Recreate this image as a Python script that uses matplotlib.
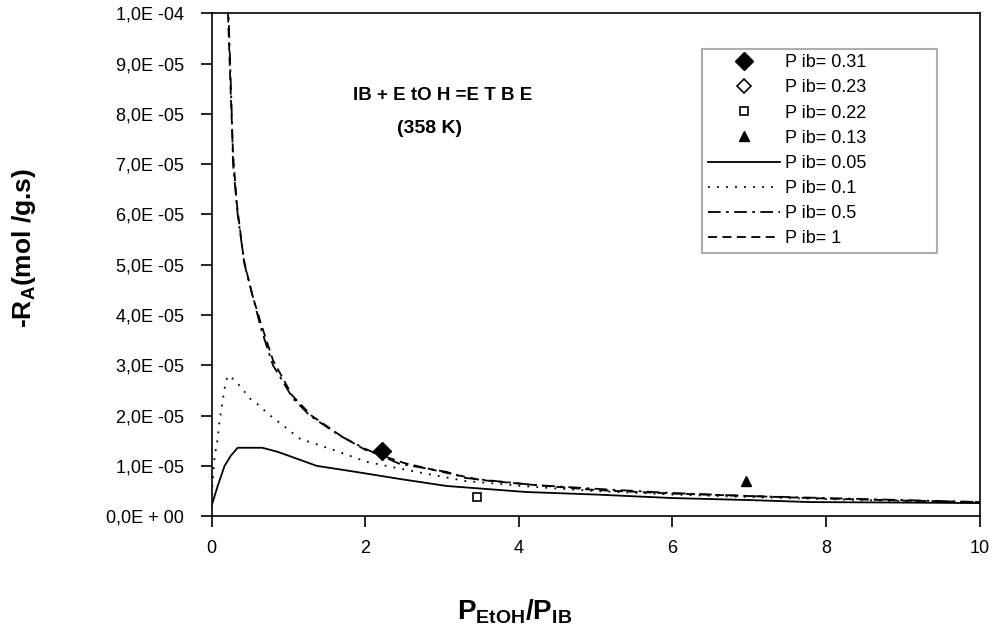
import matplotlib
matplotlib.use("Agg")
import matplotlib.pyplot as plt
from matplotlib.ticker import FuncFormatter, MultipleLocator

plt.rcParams["font.family"] = ["Liberation Sans", "DejaVu Sans"]
plt.rcParams["mathtext.fontset"] = "custom"
plt.rcParams["mathtext.rm"] = "Liberation Sans"
plt.rcParams["mathtext.bf"] = "Liberation Sans:bold"

# measured points (rate in units of 1e-5 mol/g.s)
pts_x = [2.22, 2.22, 3.46, 6.96]
pts_y = [1.29, 1.29, 0.38, 0.70]
pts_labels = ["P ib= 0.31", "P ib= 0.23", "P ib= 0.22", "P ib= 0.13"]

# model curves
x_005 = [0, 0.08, 0.17, 0.25, 0.34, 0.66, 0.86, 1.37, 1.88, 2.45, 3.06, 4.1,
         5.0, 6.0, 7.0, 7.8, 9.0, 10.0]
y_005 = [0.2, 0.6, 1.0, 1.2, 1.36, 1.36, 1.28, 1.0, 0.88, 0.74, 0.6, 0.48,
         0.43, 0.36, 0.32, 0.28, 0.27, 0.26]

x_01 = [0, 0.04, 0.08, 0.1, 0.13, 0.17, 0.2, 0.23, 0.34, 0.5, 0.62, 0.73,
        0.85, 1.15, 1.58, 2.02, 2.6, 3.3, 4.2, 5.0, 6.0, 7.0, 8.0, 9.0, 10.0]
y_01 = [0.4, 1.18, 1.54, 1.84, 2.14, 2.54, 2.74, 2.8, 2.64, 2.34, 2.2, 2.04,
        1.9, 1.54, 1.32, 1.08, 0.9, 0.7, 0.58, 0.5, 0.43, 0.38, 0.34, 0.3, 0.27]

x_05 = [0.21, 0.26, 0.28, 0.34, 0.43, 0.54, 0.65, 0.80, 1.06, 1.28, 1.67, 2.0,
        2.45, 3.06, 3.3, 4.2, 5.05, 6.0, 7.0, 8.0, 9.0, 10.0]
y_05 = [10.5, 8.16, 7.0, 6.0, 5.0, 4.35, 3.7, 3.0, 2.34, 2.0, 1.6, 1.34,
        1.04, 0.88, 0.76, 0.62, 0.54, 0.46, 0.40, 0.36, 0.32, 0.28]

x_1 = [0.20, 0.25, 0.28, 0.33, 0.42, 0.53, 0.65, 0.80, 1.05, 1.30, 1.70, 2.0,
       2.5, 3.0, 3.5, 4.2, 5.0, 6.0, 7.0, 8.0, 9.0, 10.0]
y_1 = [10.6, 8.4, 7.2, 6.2, 5.1, 4.4, 3.8, 3.1, 2.4, 2.0, 1.58, 1.32,
       1.06, 0.88, 0.72, 0.62, 0.52, 0.45, 0.40, 0.35, 0.31, 0.28]

scale = 1e-5

fig = plt.figure(figsize=(9.95, 6.31), dpi=100)
ax = fig.add_axes([0.2126, 0.182, 0.772, 0.797])

ax.plot(pts_x[0], pts_y[0] * scale, linestyle="none", marker="D", ms=9,
        color="black", label=pts_labels[0], zorder=5)
ax.plot(pts_x[1], pts_y[1] * scale, linestyle="none", marker="D", ms=7,
        mfc="white", mec="black", mew=1.2, label=pts_labels[1], zorder=4)
ax.plot(pts_x[2], pts_y[2] * scale, linestyle="none", marker="s", ms=6,
        mfc="white", mec="black", mew=1.2, label=pts_labels[2], zorder=5)
ax.plot(pts_x[3], pts_y[3] * scale, linestyle="none", marker="^", ms=7,
        color="black", label=pts_labels[3], zorder=5)

ax.plot(x_005, [v * scale for v in y_005], color="black", lw=1.3,
        label="P ib= 0.05")
ax.plot(x_01, [v * scale for v in y_01], color="black", lw=1.3,
        linestyle=(0, (1, 4)), label="P ib= 0.1")
ax.plot(x_05, [v * scale for v in y_05], color="black", lw=1.3,
        linestyle=(0, (7, 3, 1.5, 3)), label="P ib= 0.5")
ax.plot(x_1, [v * scale for v in y_1], color="black", lw=1.3,
        linestyle=(0, (5, 3)), label="P ib= 1")

ax.set_xlim(0, 10)
ax.set_ylim(0, 1e-4)
ax.xaxis.set_major_locator(MultipleLocator(2))
ax.yaxis.set_major_locator(MultipleLocator(1e-5))


def fmt_y(v, pos):
    m = round(v / 1e-5)
    if m == 0:
        return "0,0E + 00"
    if m == 10:
        return "1,0E -04"
    return f"{m},0E -05"


ax.yaxis.set_major_formatter(FuncFormatter(fmt_y))
ax.tick_params(axis="both", direction="out", length=8, width=1.2,
               labelsize=13, color="black")
ax.tick_params(axis="y", pad=12)
ax.tick_params(axis="x", pad=9)
for s in ax.spines.values():
    s.set_linewidth(1.2)

ax.text(0.301, 0.836, "IB + E tO H =E T B E", transform=ax.transAxes,
        fontsize=13.5, fontweight="bold", ha="center", va="center")
ax.text(0.284, 0.77, "(358 K)", transform=ax.transAxes,
        fontsize=14, fontweight="bold", ha="center", va="center")

ax.set_ylabel(r"-R$_{\mathbf{A}}$(mol /g.s)", fontsize=19, fontweight="bold")
ax.yaxis.set_label_coords(-0.226, 0.533)
ax.set_xlabel(r"P$_{\mathbf{EtOH}}$/P$_{\mathbf{IB}}$", fontsize=20,
              fontweight="bold")
ax.xaxis.set_label_coords(0.395, -0.162)

leg = ax.legend(loc="upper left", bbox_to_anchor=(0.639, 0.0, 0.306, 0.929),
                mode="expand", fontsize=13, frameon=True, fancybox=False,
                edgecolor="#999999", handlelength=4.0, handletextpad=0.3,
                labelspacing=0.45, borderpad=0.3, borderaxespad=0)
leg.get_frame().set_linewidth(1.5)

fig.savefig("out.png", dpi=100)
